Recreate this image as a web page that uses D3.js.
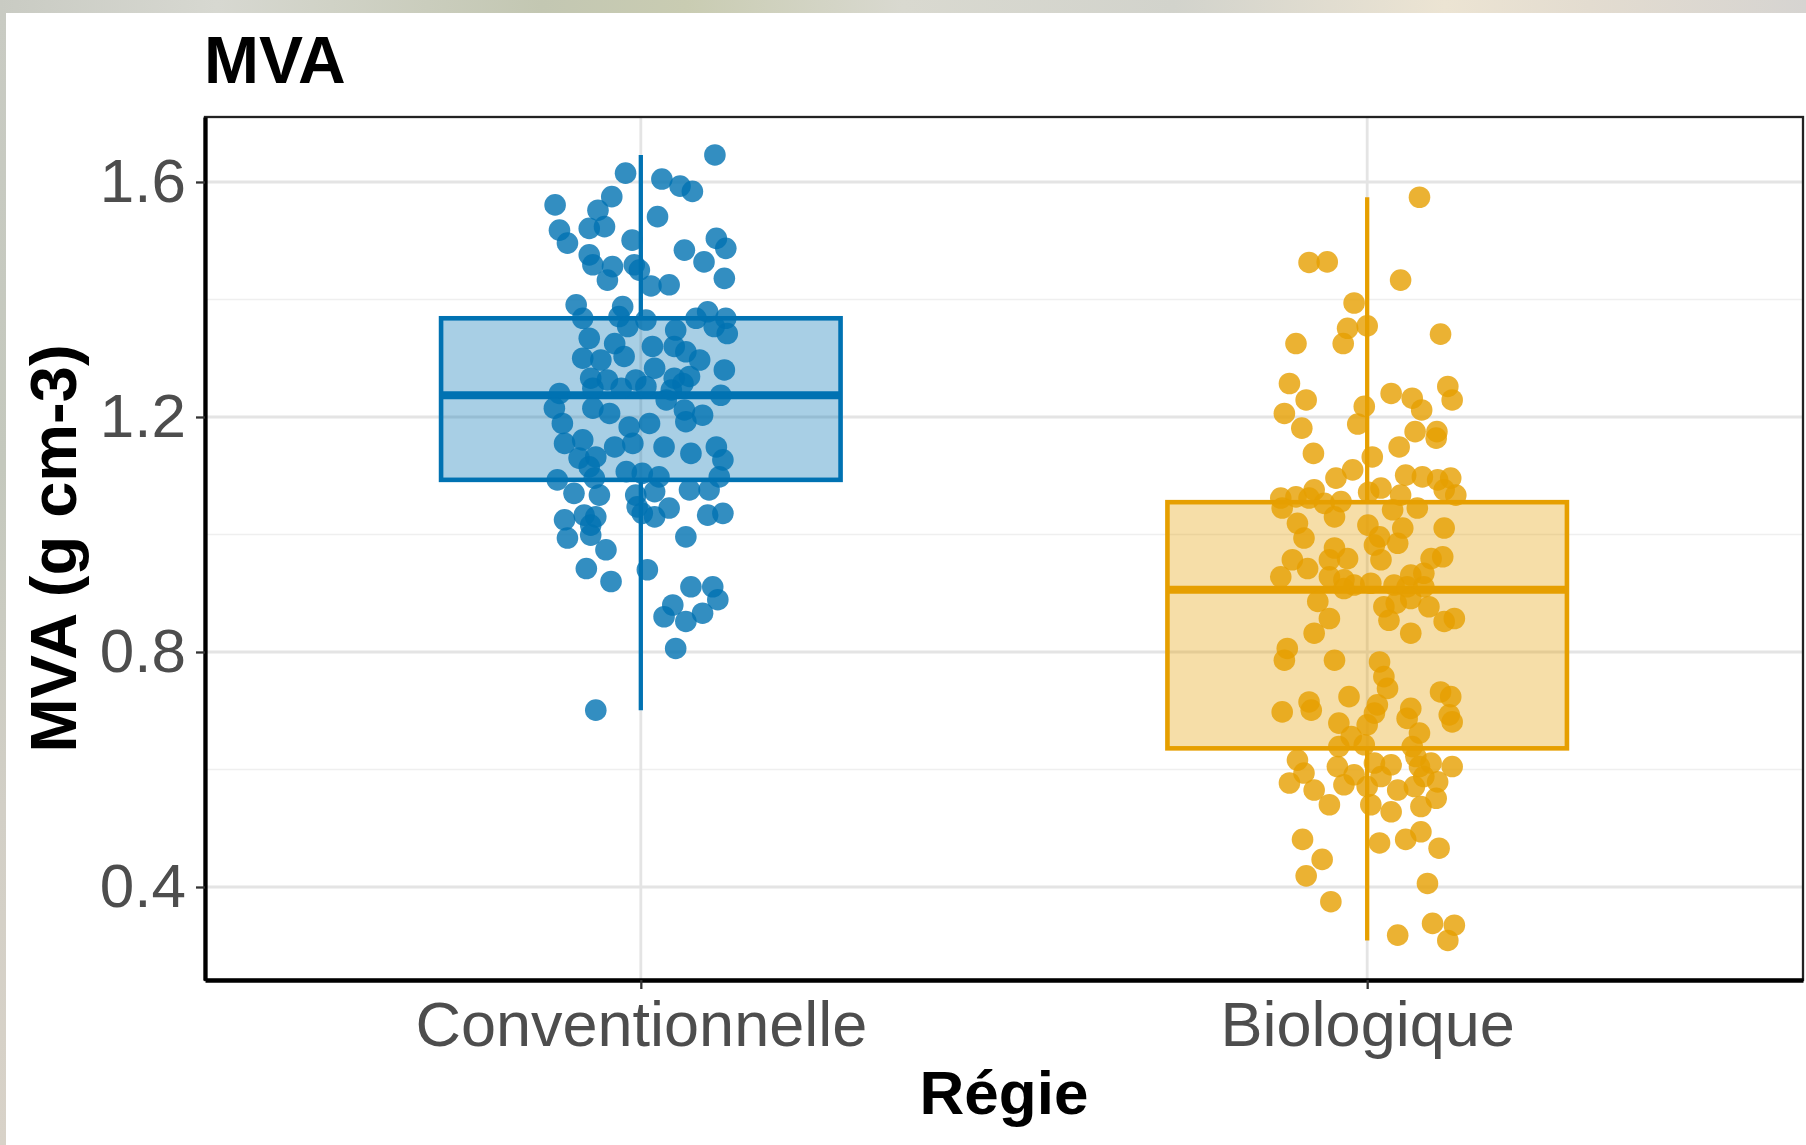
<!DOCTYPE html>
<html>
<head>
<meta charset="utf-8">
<script src="https://cdn.jsdelivr.net/npm/d3@7"></script>
<style>
  html, body { margin: 0; padding: 0; background: #fff; overflow: hidden; }
  text { font-family: "Liberation Sans", Arial, Helvetica, sans-serif; }
</style>
</head>
<body>
<svg id="chart" width="1806" height="1145"></svg>
<script>
// Management systems on the x axis
const categories = ["Conventionnelle", "Biologique"];
const seriesColors = ["#0072B2", "#E69F00"];

// Y axis ticks (major) and the minor grid in between
const yTicks = [0.4, 0.8, 1.2, 1.6];
const yMinorTicks = [0.6, 1.0, 1.4];

// Box summaries per category (g cm-3)
const q1Values = [1.093, 0.636];
const medianValues = [1.237, 0.906];
const q3Values = [1.368, 1.055];
const whiskerLow = [0.701, 0.309];
const whiskerHigh = [1.646, 1.574];

// Individual measurements, conventional management
const conventionnelleValues = [
  1.646,1.615,1.605,1.593,1.584,1.561,1.575,1.552,1.541,1.518,
  1.521,1.524,1.496,1.501,1.484,1.504,1.487,1.476,1.459,1.456,
  1.459,1.464,1.433,1.450,1.436,1.423,1.425,1.391,1.368,1.388,
  1.371,1.365,1.368,1.379,1.368,1.354,1.342,1.354,1.348,1.334,
  1.325,1.320,1.320,1.300,1.297,1.303,1.311,1.297,1.280,1.283,
  1.266,1.263,1.263,1.266,1.269,1.240,1.249,1.249,1.252,1.246,
  1.257,1.237,1.215,1.215,1.206,1.229,1.212,1.203,1.189,1.183,
  1.189,1.192,1.155,1.161,1.149,1.155,1.149,1.138,1.149,1.127,
  1.130,1.132,1.115,1.107,1.104,1.098,1.093,1.096,1.098,1.070,
  1.067,1.067,1.073,1.076,1.076,1.047,1.045,1.036,1.030,1.025,
  1.033,1.030,1.016,1.033,1.036,0.994,0.999,0.996,0.974,0.942,
  0.920,0.940,0.911,0.911,0.880,0.889,0.860,0.852,0.866,0.806,
  0.701
];
// Horizontal jitter of each conventional point, in category units
const conventionnelleJitter = [
  0.102,-0.021,0.029,0.054,0.071,-0.118,-0.040,-0.059,0.023,-0.112,
  -0.071,-0.050,-0.101,-0.012,0.060,0.104,0.117,-0.071,-0.066,-0.039,
  -0.009,0.087,-0.046,-0.002,0.115,0.014,0.039,-0.089,-0.080,-0.025,
  -0.030,0.007,0.076,0.092,0.117,0.101,0.119,-0.018,0.048,-0.071,
  -0.036,0.016,0.046,-0.080,-0.055,-0.023,0.062,0.081,0.115,0.019,
  -0.069,-0.046,-0.007,0.046,0.067,-0.112,-0.066,-0.027,0.007,0.042,
  0.058,0.110,-0.119,-0.066,-0.043,0.035,0.060,0.085,-0.108,-0.016,
  0.012,0.062,-0.105,-0.080,-0.036,-0.011,0.032,0.069,0.104,0.113,
  -0.085,-0.062,-0.071,-0.020,0.002,0.025,-0.115,-0.064,0.108,-0.092,
  -0.057,-0.007,0.019,0.067,0.094,-0.005,0.039,0.002,0.019,-0.105,
  -0.078,-0.062,-0.069,0.092,0.113,-0.101,-0.069,0.062,-0.048,-0.075,
  -0.041,0.009,0.069,0.099,0.044,0.106,0.032,0.062,0.085,0.048,
  -0.062
];

// Individual measurements, organic management
const biologiqueValues = [
  1.574,1.463,1.464,1.433,1.394,1.355,1.351,1.325,1.325,1.341,
  1.257,1.229,1.240,1.232,1.212,1.252,1.229,1.206,1.218,1.188,
  1.181,1.175,1.175,1.164,1.149,1.138,1.132,1.110,1.096,1.101,
  1.098,1.093,1.096,1.076,1.067,1.067,1.076,1.079,1.072,1.062,
  1.064,1.053,1.056,1.030,1.042,1.045,1.019,0.994,1.016,0.996,
  1.011,1.011,0.982,0.985,0.977,0.959,0.957,0.957,0.959,0.962,
  0.957,0.942,0.928,0.928,0.931,0.934,0.914,0.917,0.914,0.911,
  0.911,0.908,0.886,0.877,0.883,0.891,0.877,0.857,0.852,0.857,
  0.854,0.832,0.832,0.806,0.786,0.786,0.783,0.758,0.738,0.732,
  0.724,0.724,0.715,0.698,0.701,0.710,0.696,0.704,0.693,0.681,
  0.679,0.676,0.687,0.656,0.662,0.639,0.622,0.642,0.639,0.616,
  0.577,0.594,0.565,0.605,0.591,0.574,0.611,0.588,0.571,0.608,
  0.565,0.605,0.588,0.579,0.605,0.571,0.540,0.540,0.528,0.537,
  0.551,0.611,0.481,0.447,0.419,0.375,0.475,0.481,0.494,0.466,
  0.406,0.318,0.338,0.335,0.309,1.045,0.923,1.062
];
// Horizontal jitter of each organic point, in category units
const biologiqueJitter = [
  0.072,-0.080,-0.055,0.046,-0.018,0.000,-0.027,-0.033,-0.098,0.101,
  -0.107,-0.084,0.033,0.062,0.075,0.111,0.117,-0.114,-0.004,-0.013,
  -0.090,0.066,0.096,0.095,0.044,-0.074,0.007,-0.020,-0.043,0.053,
  0.076,0.097,0.115,0.106,0.122,0.046,-0.073,0.019,0.002,-0.119,
  -0.098,-0.059,-0.036,-0.045,0.035,0.069,-0.096,-0.087,0.001,0.017,
  0.049,0.106,0.010,0.042,-0.045,-0.027,-0.052,-0.103,0.088,0.104,
  0.019,-0.082,-0.119,-0.052,0.060,0.078,-0.018,0.005,0.037,0.055,
  0.078,-0.032,-0.068,0.023,0.040,0.060,0.085,-0.052,0.106,0.120,
  0.030,-0.073,0.060,-0.110,-0.114,-0.045,0.017,0.023,0.028,0.101,
  0.115,-0.025,-0.080,-0.117,-0.077,0.014,0.010,0.060,0.113,0.117,
  -0.039,0.000,0.055,-0.022,0.072,0.062,0.067,-0.004,-0.039,-0.096,
  -0.107,-0.087,-0.073,-0.041,-0.018,-0.032,0.010,0.019,0.000,0.033,
  0.042,0.072,0.078,0.097,0.117,0.065,-0.052,0.005,0.033,0.074,
  0.095,0.088,-0.089,-0.062,-0.084,-0.050,0.017,0.053,0.074,0.099,
  0.083,0.042,0.090,0.120,0.111,-0.117,-0.032,-0.080
];

const pointValues = [conventionnelleValues, biologiqueValues];
const pointJitter = [conventionnelleJitter, biologiqueJitter];

// ---- layout ----
const W = 1806, H = 1145;
const panel = { left: 205, top: 117, right: 1803, bottom: 980 };
const boxWidth = 0.55;      // in category units
const pointRadius = 10.8;

const svg = d3.select("#chart");

// Photo strip peeking around the white card
const defs = svg.append("defs");
const bgGrad = defs.append("linearGradient").attr("id", "bgGrad")
  .attr("x1", "0").attr("y1", "0").attr("x2", "1").attr("y2", "0");
[["0%", "#c9cbc3"], ["12%", "#d7d8d1"], ["30%", "#c3c7b2"], ["38%", "#c9ccb2"],
 ["50%", "#d9d9d0"], ["65%", "#d2d3cc"], ["80%", "#ece4d3"], ["88%", "#e3dcd0"],
 ["100%", "#d6d4d1"]].forEach(([o, c]) => bgGrad.append("stop").attr("offset", o).attr("stop-color", c));
const sideGrad = defs.append("linearGradient").attr("id", "sideGrad")
  .attr("x1", "0").attr("y1", "0").attr("x2", "0").attr("y2", "1");
[["0%", "#c9cbc3"], ["40%", "#c4c8bd"], ["70%", "#d2cfc6"], ["100%", "#d8d2c8"]]
  .forEach(([o, c]) => sideGrad.append("stop").attr("offset", o).attr("stop-color", c));

svg.append("rect").attr("width", W).attr("height", H).attr("fill", "url(#bgGrad)");
svg.append("rect").attr("x", 0).attr("y", 13).attr("width", 6).attr("height", H - 13).attr("fill", "url(#sideGrad)");
svg.append("rect").attr("x", 6).attr("y", 13).attr("width", W - 6).attr("height", H - 13).attr("fill", "#ffffff");

// ---- scales ----
const x = d3.scalePoint().domain(categories).range([panel.left, panel.right]).padding(0.6);
const step = x.step();
const y = d3.scaleLinear().domain([0.2417, 1.7106]).range([panel.bottom, panel.top]);

// ---- grid ----
const grid = svg.append("g");
grid.selectAll("line.minor").data(yMinorTicks).join("line")
  .attr("x1", panel.left).attr("x2", panel.right)
  .attr("y1", d => y(d)).attr("y2", d => y(d))
  .attr("stroke", "#efefef").attr("stroke-width", 1.4);
grid.selectAll("line.major").data(yTicks).join("line")
  .attr("x1", panel.left).attr("x2", panel.right)
  .attr("y1", d => y(d)).attr("y2", d => y(d))
  .attr("stroke", "#e4e4e4").attr("stroke-width", 2.8);
grid.selectAll("line.vmajor").data(categories).join("line")
  .attr("x1", d => x(d)).attr("x2", d => x(d))
  .attr("y1", panel.top).attr("y2", panel.bottom)
  .attr("stroke", "#e4e4e4").attr("stroke-width", 2.8);

// ---- boxes ----
const boxes = svg.append("g");
categories.forEach((cat, i) => {
  const cx = x(cat);
  const half = boxWidth / 2 * step;
  const color = seriesColors[i];
  // whiskers
  boxes.append("line").attr("x1", cx).attr("x2", cx)
    .attr("y1", y(q3Values[i])).attr("y2", y(whiskerHigh[i]))
    .attr("stroke", color).attr("stroke-width", 4.3);
  boxes.append("line").attr("x1", cx).attr("x2", cx)
    .attr("y1", y(q1Values[i])).attr("y2", y(whiskerLow[i]))
    .attr("stroke", color).attr("stroke-width", 4.3);
  // box
  boxes.append("rect")
    .attr("x", cx - half).attr("width", 2 * half)
    .attr("y", y(q3Values[i])).attr("height", y(q1Values[i]) - y(q3Values[i]))
    .attr("fill", color).attr("fill-opacity", 0.34)
    .attr("stroke", color).attr("stroke-width", 4.6);
  // median
  boxes.append("line")
    .attr("x1", cx - half).attr("x2", cx + half)
    .attr("y1", y(medianValues[i])).attr("y2", y(medianValues[i]))
    .attr("stroke", color).attr("stroke-width", 8);
});

// ---- jittered points ----
const pts = svg.append("g");
categories.forEach((cat, i) => {
  const data = pointValues[i].map((v, k) => ({ v, j: pointJitter[i][k] }));
  pts.selectAll(null).data(data).join("circle")
    .attr("cx", d => x(cat) + d.j * step)
    .attr("cy", d => y(d.v))
    .attr("r", pointRadius)
    .attr("fill", seriesColors[i])
    .attr("fill-opacity", 0.8);
});

// ---- panel border ----
svg.append("rect")
  .attr("x", panel.left).attr("y", panel.top)
  .attr("width", panel.right - panel.left).attr("height", panel.bottom - panel.top)
  .attr("fill", "none").attr("stroke", "#222").attr("stroke-width", 2.3);

// ---- axes ----
const yAxis = svg.append("g")
  .attr("transform", `translate(${panel.left},0)`)
  .call(d3.axisLeft(y).tickValues(yTicks).tickFormat(d3.format(".1f")).tickSize(9).tickSizeOuter(0).tickPadding(10));
yAxis.select(".domain").attr("stroke", "#000").attr("stroke-width", 4.3);
yAxis.selectAll(".tick line").attr("stroke", "#333").attr("stroke-width", 2.3);
yAxis.selectAll(".tick text")
  .attr("fill", "#4d4d4d").style("font-size", "62px")
  .style("font-family", "'Liberation Sans', Arial, sans-serif");

const xAxis = svg.append("g")
  .attr("transform", `translate(0,${panel.bottom})`)
  .call(d3.axisBottom(x).tickSize(9).tickSizeOuter(0));
xAxis.select(".domain").attr("stroke", "#000").attr("stroke-width", 4.3);
xAxis.selectAll(".tick line").attr("stroke", "#333").attr("stroke-width", 2.3);
xAxis.selectAll(".tick text")
  .attr("y", 66).attr("dy", null)
  .attr("fill", "#4d4d4d").style("font-size", "63px")
  .style("font-family", "'Liberation Sans', Arial, sans-serif");

// ---- titles ----
svg.append("text")
  .attr("x", panel.left - 1).attr("y", 83)
  .style("font-size", "66px").style("font-weight", "bold").attr("fill", "#000")
  .text("MVA");

svg.append("text")
  .attr("transform", `translate(76,${(panel.top + panel.bottom) / 2}) rotate(-90)`)
  .attr("text-anchor", "middle")
  .style("font-size", "65px").style("font-weight", "bold").attr("fill", "#000")
  .text("MVA (g cm-3)");

svg.append("text")
  .attr("x", (panel.left + panel.right) / 2).attr("y", 1114)
  .attr("text-anchor", "middle")
  .style("font-size", "62px").style("font-weight", "bold").attr("fill", "#000")
  .text("Régie");
</script>
</body>
</html>
